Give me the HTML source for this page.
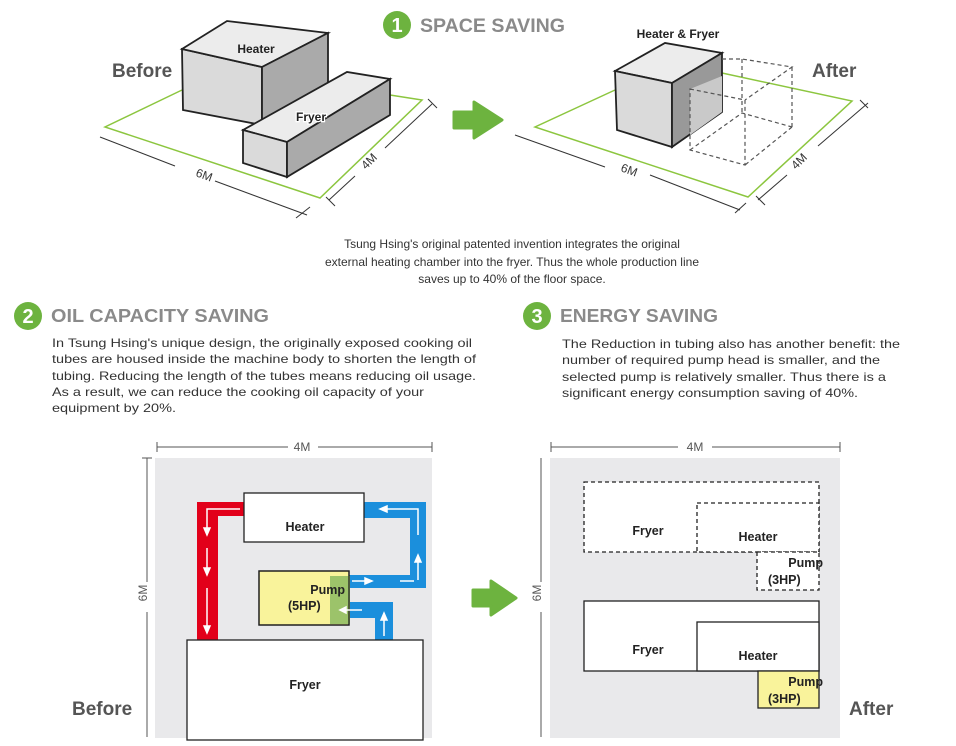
<!DOCTYPE html>
<html><head><meta charset="utf-8"><style>
html,body{margin:0;padding:0;background:#fff;}
svg{display:block;font-family:"Liberation Sans",Arial,sans-serif;}
</style></head><body>
<svg width="956" height="746" viewBox="0 0 956 746" xmlns="http://www.w3.org/2000/svg">
<circle cx="397" cy="25" r="14" fill="#6db33f"/>
<text x="397" y="32" font-size="20" font-weight="bold" fill="#fff" text-anchor="middle">1</text>
<text x="420" y="32" font-size="19" fill="#8a8a8a" font-weight="bold" textLength="145" lengthAdjust="spacingAndGlyphs">SPACE SAVING</text>

<polyline points="182,90 105,127 320,198 422,100 390,95" fill="none" stroke="#8cc63f" stroke-width="1.5"/>
<line x1="100" y1="137" x2="175" y2="166" stroke="#333" stroke-width="1"/>
<line x1="215" y1="181" x2="307" y2="215" stroke="#333" stroke-width="1"/>
<line x1="296" y1="218" x2="310" y2="207" stroke="#333"/>
<text x="195" y="176" font-size="12" fill="#333" transform="rotate(20 195 176)">6M</text>
<line x1="329" y1="200" x2="355" y2="176" stroke="#333"/>
<line x1="385" y1="148" x2="432" y2="104" stroke="#333"/>
<line x1="326" y1="197" x2="335" y2="206" stroke="#333"/>
<line x1="428" y1="99" x2="437" y2="108" stroke="#333"/>
<text x="366" y="170" font-size="12" fill="#333" transform="rotate(-45 366 170)">4M</text>
<polygon points="182,49 262,67 262,125 183,110" fill="#dadada" stroke="#222" stroke-width="1.8"/>
<polygon points="182,49 227,21 328,33 262,67" fill="#ececec" stroke="#222" stroke-width="1.8"/>
<polygon points="262,67 328,33 328,83 262,125" fill="#aaaaaa" stroke="#222" stroke-width="1.8"/>
<text x="256" y="53" font-size="12" font-weight="bold" fill="#222" text-anchor="middle">Heater</text>
<polygon points="243,130 347,72 390,79 287,142" fill="#ececec" stroke="#222" stroke-width="1.8"/>
<polygon points="243,130 287,142 287,177 243,163" fill="#dadada" stroke="#222" stroke-width="1.8"/>
<polygon points="287,142 390,79 390,115 287,177" fill="#aaaaaa" stroke="#222" stroke-width="1.8"/>
<text x="311" y="121" font-size="12" font-weight="bold" fill="#222" text-anchor="middle" stroke="#fff" stroke-width="2.5" paint-order="stroke">Fryer</text>
<text x="112" y="77" font-size="19" font-weight="bold" fill="#555">Before</text>

<polygon points="454,112 474,112 474,102 502,120 474,138 474,128 454,128" fill="#6db33f" stroke="#6db33f" stroke-width="3" stroke-linejoin="round"/>

<polyline points="615,90 535,127 748,197 852,101 722,73" fill="none" stroke="#8cc63f" stroke-width="1.5"/>
<line x1="515" y1="135" x2="605" y2="167" stroke="#333"/>
<line x1="650" y1="175" x2="740" y2="210" stroke="#333"/>
<line x1="735" y1="213" x2="746" y2="203" stroke="#333"/>
<text x="620" y="171" font-size="12" fill="#333" transform="rotate(20 620 171)">6M</text>
<line x1="758" y1="200" x2="787" y2="175" stroke="#333"/>
<line x1="818" y1="146" x2="868" y2="103" stroke="#333"/>
<line x1="756" y1="196" x2="765" y2="205" stroke="#333"/>
<line x1="860" y1="100" x2="868" y2="108" stroke="#333"/>
<text x="796" y="170" font-size="12" fill="#333" transform="rotate(-45 796 170)">4M</text>
<polygon points="615,71 665,43 722,53 672,83" fill="#ececec" stroke="#222" stroke-width="1.8"/>
<polygon points="615,71 672,83 672,147 617,130" fill="#dadada" stroke="#222" stroke-width="1.8"/>
<polygon points="672,83 722,53 722,112 672,147" fill="#999" stroke="#222" stroke-width="1.8"/>
<polygon points="690,89 722,76 722,112 690,135" fill="#c9c9c9"/>
<g fill="none" stroke="#555" stroke-width="1.2" stroke-dasharray="4,3">
<polygon points="690,89 745,100 745,165 690,150"/>
<polyline points="722,59 742,59 792,67 745,100"/>
<line x1="792" y1="67" x2="792" y2="127"/>
<line x1="792" y1="127" x2="745" y2="165"/>
<line x1="742" y1="59" x2="742" y2="113"/>
<polyline points="690,150 742,113 792,127"/>
</g>
<text x="678" y="38" font-size="12" font-weight="bold" fill="#222" text-anchor="middle">Heater &amp; Fryer</text>
<text x="812" y="77" font-size="19" font-weight="bold" fill="#555">After</text>

<g font-size="12" fill="#333" text-anchor="middle">
<text x="512" y="248">Tsung Hsing's original patented invention integrates the original</text>
<text x="512" y="266">external heating chamber into the fryer. Thus the whole production line</text>
<text x="512" y="283">saves up to 40% of the floor space.</text>
</g>

<circle cx="28" cy="316" r="14" fill="#6db33f"/>
<text x="28" y="323" font-size="20" font-weight="bold" fill="#fff" text-anchor="middle">2</text>
<text x="51" y="322" font-size="18" font-weight="bold" fill="#8a8a8a" textLength="218" lengthAdjust="spacingAndGlyphs">OIL CAPACITY SAVING</text>
<g font-size="12" fill="#333">
<text x="52" y="347" textLength="420" lengthAdjust="spacingAndGlyphs">In Tsung Hsing's unique design, the originally exposed cooking oil</text>
<text x="52" y="363" textLength="424" lengthAdjust="spacingAndGlyphs">tubes are housed inside the machine body to shorten the length of</text>
<text x="52" y="380" textLength="424" lengthAdjust="spacingAndGlyphs">tubing. Reducing the length of the tubes means reducing oil usage.</text>
<text x="52" y="396" textLength="372" lengthAdjust="spacingAndGlyphs">As a result, we can reduce the cooking oil capacity of your</text>
<text x="52" y="412" textLength="124" lengthAdjust="spacingAndGlyphs">equipment by 20%.</text>
</g>

<circle cx="537" cy="316" r="14" fill="#6db33f"/>
<text x="537" y="323" font-size="20" font-weight="bold" fill="#fff" text-anchor="middle">3</text>
<text x="560" y="322" font-size="18" font-weight="bold" fill="#8a8a8a" textLength="158" lengthAdjust="spacingAndGlyphs">ENERGY SAVING</text>
<g font-size="12" fill="#333">
<text x="562" y="348" textLength="338" lengthAdjust="spacingAndGlyphs">The Reduction in tubing also has another benefit: the</text>
<text x="562" y="364" textLength="318" lengthAdjust="spacingAndGlyphs">number of required pump head is smaller, and the</text>
<text x="562" y="381" textLength="324" lengthAdjust="spacingAndGlyphs">selected pump is relatively smaller. Thus there is a</text>
<text x="562" y="397" textLength="296" lengthAdjust="spacingAndGlyphs">significant energy consumption saving of 40%.</text>
</g>

<rect x="155" y="458" width="277" height="280" fill="#e9e9eb"/>
<g stroke="#555" stroke-width="1">
<line x1="157" y1="447" x2="288" y2="447"/><line x1="318" y1="447" x2="432" y2="447"/>
<line x1="157" y1="442" x2="157" y2="452"/><line x1="432" y1="442" x2="432" y2="452"/>
<line x1="147" y1="458" x2="147" y2="582"/><line x1="147" y1="612" x2="147" y2="737"/>
<line x1="142" y1="458" x2="152" y2="458"/>
</g>
<text x="302" y="451" font-size="12" fill="#555" text-anchor="middle">4M</text>
<text x="151" y="597" font-size="12" fill="#555" text-anchor="middle" transform="rotate(-90 147 597)">6M</text>
<path d="M197,502 H244 V516 H218 V640 H197 Z" fill="#e2001a"/>
<path d="M364,502 H426 V588 H349 V575 H410 V518 H364 Z" fill="#1b8fdc"/>
<path d="M349,602 H393 V640 H375 V618 H349 Z" fill="#1b8fdc"/>
<rect x="259" y="571" width="90" height="54" fill="#f9f39b" stroke="#222" stroke-width="1.3"/>
<rect x="330" y="576" width="20" height="48" fill="#9cc36a"/>
<rect x="259" y="571" width="90" height="54" fill="none" stroke="#222" stroke-width="1.3"/>
<text x="345" y="594" font-size="12.5" font-weight="bold" fill="#222" text-anchor="end">Pump</text>
<text x="288" y="610" font-size="12.5" font-weight="bold" fill="#222">(5HP)</text>
<g stroke="#fff" stroke-width="1.5" fill="#fff">
<polyline points="240,509 207,509 207,530" fill="none"/><polygon points="204,528 210,528 207,535"/>
<line x1="207" y1="548" x2="207" y2="570"/><polygon points="204,568 210,568 207,575"/>
<line x1="207" y1="588" x2="207" y2="628"/><polygon points="204,626 210,626 207,633"/>
<polyline points="418,535 418,509 385,509" fill="none"/><polygon points="387,506 387,512 380,509"/>
<line x1="418" y1="580" x2="418" y2="560"/><polygon points="415,562 421,562 418,555"/>
<line x1="352" y1="581" x2="366" y2="581"/><polygon points="365,578 365,584 372,581"/>
<line x1="400" y1="581" x2="414" y2="581"/>
<line x1="362" y1="610" x2="345" y2="610"/><polygon points="346,607 346,613 340,610"/>
<line x1="384" y1="636" x2="384" y2="618"/><polygon points="381,620 387,620 384,613"/>
</g>
<rect x="244" y="493" width="120" height="49" fill="#fff" stroke="#222" stroke-width="1.3"/>
<text x="305" y="531" font-size="12.5" font-weight="bold" fill="#222" text-anchor="middle">Heater</text>
<rect x="187" y="640" width="236" height="100" fill="#fff" stroke="#222" stroke-width="1.3"/>
<text x="305" y="689" font-size="12.5" font-weight="bold" fill="#222" text-anchor="middle">Fryer</text>
<text x="72" y="715" font-size="19" font-weight="bold" fill="#555">Before</text>

<polygon points="473,590 491,590 491,581 516,598 491,615 491,606 473,606" fill="#6db33f" stroke="#6db33f" stroke-width="3" stroke-linejoin="round"/>

<rect x="550" y="458" width="290" height="280" fill="#e9e9eb"/>
<g stroke="#555" stroke-width="1">
<line x1="551" y1="447" x2="678" y2="447"/><line x1="712" y1="447" x2="840" y2="447"/>
<line x1="551" y1="442" x2="551" y2="452"/><line x1="840" y1="442" x2="840" y2="452"/>
<line x1="541" y1="458" x2="541" y2="582"/><line x1="541" y1="612" x2="541" y2="737"/>
</g>
<text x="695" y="451" font-size="12" fill="#555" text-anchor="middle">4M</text>
<text x="545" y="597" font-size="12" fill="#555" text-anchor="middle" transform="rotate(-90 541 597)">6M</text>
<g fill="#fff" stroke="#222" stroke-width="1.3" stroke-dasharray="4,3">
<rect x="584" y="482" width="235" height="70"/>
<rect x="697" y="503" width="122" height="49"/>
<rect x="757" y="552" width="62" height="38"/>
</g>
<g fill="#fff" stroke="#222" stroke-width="1.3">
<rect x="584" y="601" width="235" height="70"/>
<rect x="697" y="622" width="122" height="49"/>
<rect x="758" y="671" width="61" height="37" fill="#f9f39b"/>
</g>
<g font-size="12.5" font-weight="bold" fill="#222">
<text x="648" y="535" text-anchor="middle">Fryer</text>
<text x="758" y="541" text-anchor="middle">Heater</text>
<text x="823" y="567" text-anchor="end">Pump</text>
<text x="768" y="584">(3HP)</text>
<text x="648" y="654" text-anchor="middle">Fryer</text>
<text x="758" y="660" text-anchor="middle">Heater</text>
<text x="823" y="686" text-anchor="end">Pump</text>
<text x="768" y="703">(3HP)</text>
</g>
<text x="849" y="715" font-size="19" font-weight="bold" fill="#555">After</text>
</svg>
</body></html>
